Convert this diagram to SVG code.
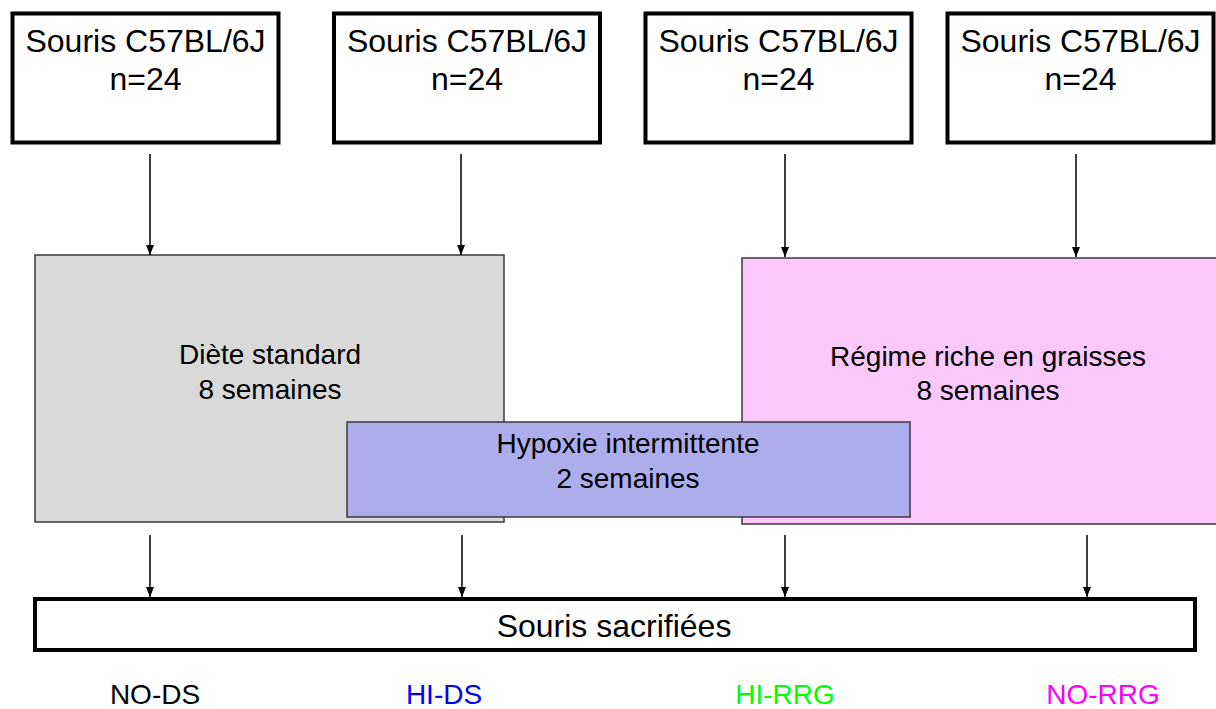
<svg xmlns="http://www.w3.org/2000/svg" width="1216" height="709" viewBox="0 0 1216 709">
<style>
text{font-family:"Liberation Sans",Arial,sans-serif;text-anchor:middle;fill:#000}
.top{font-size:32px}
.mid{font-size:28px}
.lab{font-size:28px}
.tbox{fill:#fff;stroke:#000;stroke-width:4}
.conn{stroke:#000;stroke-width:1.5;fill:none}
</style>
<defs>
<marker id="ah" viewBox="0 0 10 8" refX="10" refY="4" markerWidth="10" markerHeight="8" markerUnits="userSpaceOnUse" orient="auto">
<path d="M0,0 L10,4 L0,8 Z" fill="#000"/>
</marker>
</defs>
<rect width="1216" height="709" fill="#fff"/>
<g id="souris1"><rect class="tbox" x="12.5" y="13.5" width="266" height="129"/><text class="top" x="145.5" y="52">Souris C57BL/6J</text><text class="top" x="145.5" y="90">n=24</text></g>
<g id="souris2"><rect class="tbox" x="334" y="13.5" width="266" height="129"/><text class="top" x="467" y="52">Souris C57BL/6J</text><text class="top" x="467" y="90">n=24</text></g>
<g id="souris3"><rect class="tbox" x="645.5" y="13.5" width="266" height="129"/><text class="top" x="778.5" y="52">Souris C57BL/6J</text><text class="top" x="778.5" y="90">n=24</text></g>
<g id="souris4"><rect class="tbox" x="947.5" y="13.5" width="266" height="129"/><text class="top" x="1080.5" y="52">Souris C57BL/6J</text><text class="top" x="1080.5" y="90">n=24</text></g>
<g id="diete"><rect x="35" y="255" width="469" height="267" fill="#d9d9d9" stroke="#3a3a3a" stroke-width="1.5"/><text class="mid" x="270" y="364">Diète standard</text><text class="mid" x="270" y="399">8 semaines</text></g>
<g id="regime"><rect x="742" y="258" width="480" height="266" fill="#fcc8fc" stroke="#3a3a3a" stroke-width="1.5"/><text class="mid" x="988" y="366">Régime riche en graisses</text><text class="mid" x="988" y="400">8 semaines</text></g>
<g id="hypoxie"><rect x="347" y="422" width="563" height="95" fill="#adadec" stroke="#3a3a3a" stroke-width="1.5"/><text class="mid" x="628" y="453">Hypoxie intermittente</text><text class="mid" x="628" y="488">2 semaines</text></g>
<g id="sacrifiees"><rect class="tbox" x="35" y="599" width="1160" height="51"/><text class="top" x="614" y="637">Souris sacrifiées</text></g>
<g id="labels">
<text class="lab" x="155" y="704">NO-DS</text>
<text class="lab" x="444" y="704" style="fill:#0000ff">HI-DS</text>
<text class="lab" x="785" y="704" style="fill:#00ff00">HI-RRG</text>
<text class="lab" x="1103" y="704" style="fill:#ff00ff">NO-RRG</text>
</g>
<g id="connectors">
<line class="conn" x1="150" y1="154" x2="150" y2="255" marker-end="url(#ah)"/>
<line class="conn" x1="461" y1="154" x2="461" y2="255" marker-end="url(#ah)"/>
<line class="conn" x1="785" y1="154" x2="785" y2="257" marker-end="url(#ah)"/>
<line class="conn" x1="1076" y1="154" x2="1076" y2="257" marker-end="url(#ah)"/>
<line class="conn" x1="150" y1="535" x2="150" y2="597" marker-end="url(#ah)"/>
<line class="conn" x1="462" y1="535" x2="462" y2="597" marker-end="url(#ah)"/>
<line class="conn" x1="785" y1="535" x2="785" y2="597" marker-end="url(#ah)"/>
<line class="conn" x1="1087" y1="535" x2="1087" y2="597" marker-end="url(#ah)"/>
</g>
</svg>
